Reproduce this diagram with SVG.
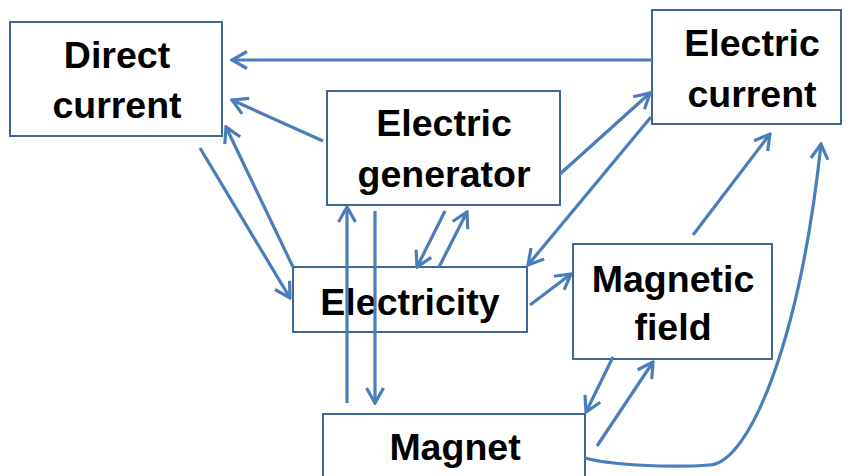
<svg xmlns="http://www.w3.org/2000/svg" width="850" height="476" viewBox="0 0 850 476">
<style>
.box{fill:#fff;stroke:#3d6699;stroke-width:2}
.lbl{font-family:"Liberation Sans",Arial,sans-serif;font-weight:bold;font-size:37.5px;fill:#000;text-anchor:middle}
.c{fill:none;stroke:#4a7ebb;stroke-width:3.2}
</style>
<defs>
<marker id="ah" viewBox="0 0 18 20" refX="16" refY="10" markerWidth="18" markerHeight="20" markerUnits="userSpaceOnUse" orient="auto">
<path d="M1,1.5 L16,10 L1,18.5" fill="none" stroke="#4a7ebb" stroke-width="3.2"/>
</marker>
</defs>
<rect width="850" height="476" fill="#fff"/>
<g id="direct-current"><rect class="box" x="10" y="22" width="212" height="114"/><text class="lbl" x="117" y="68">Direct</text><text class="lbl" x="117" y="118">current</text></g>
<g id="electric-generator"><rect class="box" x="327" y="91" width="233" height="114"/><text class="lbl" x="444" y="136">Electric</text><text class="lbl" x="444" y="187">generator</text></g>
<g id="electric-current"><rect class="box" x="652" y="10" width="189" height="114"/><text class="lbl" x="752" y="56">Electric</text><text class="lbl" x="752" y="107">current</text></g>
<g id="electricity"><rect class="box" x="293" y="267" width="234" height="65"/><text class="lbl" x="410" y="315">Electricity</text></g>
<g id="magnetic-field"><rect class="box" x="573" y="244" width="199" height="115"/><text class="lbl" x="673" y="292">Magnetic</text><text class="lbl" x="673" y="340">field</text></g>
<g id="magnet"><rect class="box" x="323" y="414" width="262" height="70"/><text class="lbl" x="455" y="460">Magnet</text></g>
<g id="connectors">
<line class="c" x1="652" y1="60" x2="232" y2="60" marker-end="url(#ah)"/>
<line class="c" x1="323" y1="141" x2="232" y2="100" marker-end="url(#ah)"/>
<line class="c" x1="200" y1="148" x2="290" y2="298" marker-end="url(#ah)"/>
<line class="c" x1="293" y1="267" x2="226" y2="127" marker-end="url(#ah)"/>
<line class="c" x1="347" y1="403" x2="347" y2="207" marker-end="url(#ah)"/>
<line class="c" x1="375" y1="211" x2="375" y2="403" marker-end="url(#ah)"/>
<line class="c" x1="445" y1="211" x2="417" y2="267" marker-end="url(#ah)"/>
<line class="c" x1="439" y1="267" x2="467" y2="212" marker-end="url(#ah)"/>
<line class="c" x1="560" y1="174" x2="650" y2="93" marker-end="url(#ah)"/>
<line class="c" x1="651" y1="117" x2="528" y2="265" marker-end="url(#ah)"/>
<line class="c" x1="530" y1="305" x2="571" y2="274" marker-end="url(#ah)"/>
<line class="c" x1="693" y1="235" x2="770" y2="134" marker-end="url(#ah)"/>
<line class="c" x1="613" y1="357" x2="586" y2="412" marker-end="url(#ah)"/>
<line class="c" x1="597" y1="446" x2="653" y2="362" marker-end="url(#ah)"/>
<path class="c" d="M585,458 C610,465 670,468 710,465 C750,462 800,340 821,144" marker-end="url(#ah)"/>
</g>
</svg>
